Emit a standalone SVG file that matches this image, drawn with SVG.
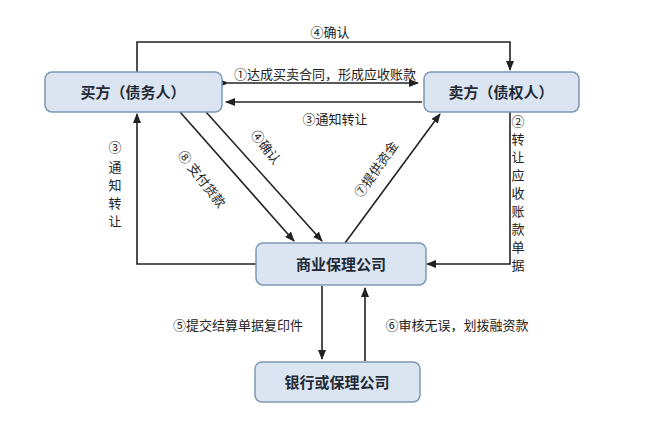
<svg xmlns="http://www.w3.org/2000/svg" width="650" height="421" viewBox="0 0 650 421">
<style>
.box{fill:#dbe5f1;stroke:#7d98b3;stroke-width:1.5}
.nt{font-family:"Noto Sans CJK SC",sans-serif;font-size:15px;font-weight:bold;fill:#1f2a36;text-anchor:middle}
.lt{font-family:"Noto Sans CJK SC",sans-serif;font-size:13px;fill:#222}
.ln{stroke:#222;stroke-width:1.6;fill:none}
</style>
<defs><marker id="a" markerWidth="10" markerHeight="8" refX="9" refY="4" orient="auto" markerUnits="userSpaceOnUse"><path d="M0,0 L10,4 L0,8 z" fill="#222"/></marker></defs>
<rect width="650" height="421" fill="#fff"/>
<g id="connectors">
<path class="ln" d="M137,72 V42 H510 V70" marker-end="url(#a)"/>
<path class="ln" d="M228,83 H418" marker-start="url(#a)" marker-end="url(#a)"/>
<path class="ln" d="M422,102 H226" marker-end="url(#a)"/>
<path class="ln" d="M256,264 H137 V114" marker-end="url(#a)"/>
<path class="ln" d="M510,112 V264 H427" marker-end="url(#a)"/>
<path class="ln" d="M180,112 L294,241" marker-end="url(#a)"/>
<path class="ln" d="M206,112 L322,241" marker-end="url(#a)"/>
<path class="ln" d="M345,243 L440,114" marker-end="url(#a)"/>
<path class="ln" d="M322,286 V359" marker-end="url(#a)"/>
<path class="ln" d="M365,361 V288" marker-end="url(#a)"/>
<text class="lt" x="330" y="37" text-anchor="middle">④确认</text>
<text class="lt" x="325" y="79" text-anchor="middle">①达成买卖合同，形成应收账款</text>
<text class="lt" x="335" y="124" text-anchor="middle">③通知转让</text>
<text class="lt" x="115" y="152" text-anchor="middle">③</text>
<text class="lt" x="115" y="172" text-anchor="middle">通</text>
<text class="lt" x="115" y="190" text-anchor="middle">知</text>
<text class="lt" x="115" y="208" text-anchor="middle">转</text>
<text class="lt" x="115" y="226" text-anchor="middle">让</text>
<text class="lt" x="518" y="126" text-anchor="middle">②</text>
<text class="lt" x="518" y="144" text-anchor="middle">转</text>
<text class="lt" x="518" y="162" text-anchor="middle">让</text>
<text class="lt" x="518" y="180" text-anchor="middle">应</text>
<text class="lt" x="518" y="198" text-anchor="middle">收</text>
<text class="lt" x="518" y="216" text-anchor="middle">账</text>
<text class="lt" x="518" y="234" text-anchor="middle">款</text>
<text class="lt" x="518" y="252" text-anchor="middle">单</text>
<text class="lt" x="518" y="270" text-anchor="middle">据</text>
<text class="lt" transform="translate(198,182) rotate(52)" text-anchor="middle">⑧ 支付货款</text>
<text class="lt" transform="translate(262,150) rotate(52)" text-anchor="middle">④确认</text>
<text class="lt" transform="translate(380,172) rotate(-55)" text-anchor="middle">⑦提供资金</text>
<text class="lt" x="238" y="330" text-anchor="middle">⑤提交结算单据复印件</text>
<text class="lt" x="457" y="330" text-anchor="middle">⑥审核无误，划拨融资款</text>
</g>
<g id="buyer"><rect class="box" x="45" y="72" width="177" height="40" rx="7"/><text class="nt" x="133" y="98">买方（债务人）</text></g>
<g id="seller"><rect class="box" x="424" y="72" width="155" height="40" rx="7"/><text class="nt" x="501" y="98">卖方（债权人）</text></g>
<g id="factor"><rect class="box" x="256" y="243" width="170" height="42" rx="7"/><text class="nt" x="341" y="270">商业保理公司</text></g>
<g id="bank"><rect class="box" x="255" y="362" width="165" height="40" rx="7"/><text class="nt" x="337" y="388">银行或保理公司</text></g>
</svg>
